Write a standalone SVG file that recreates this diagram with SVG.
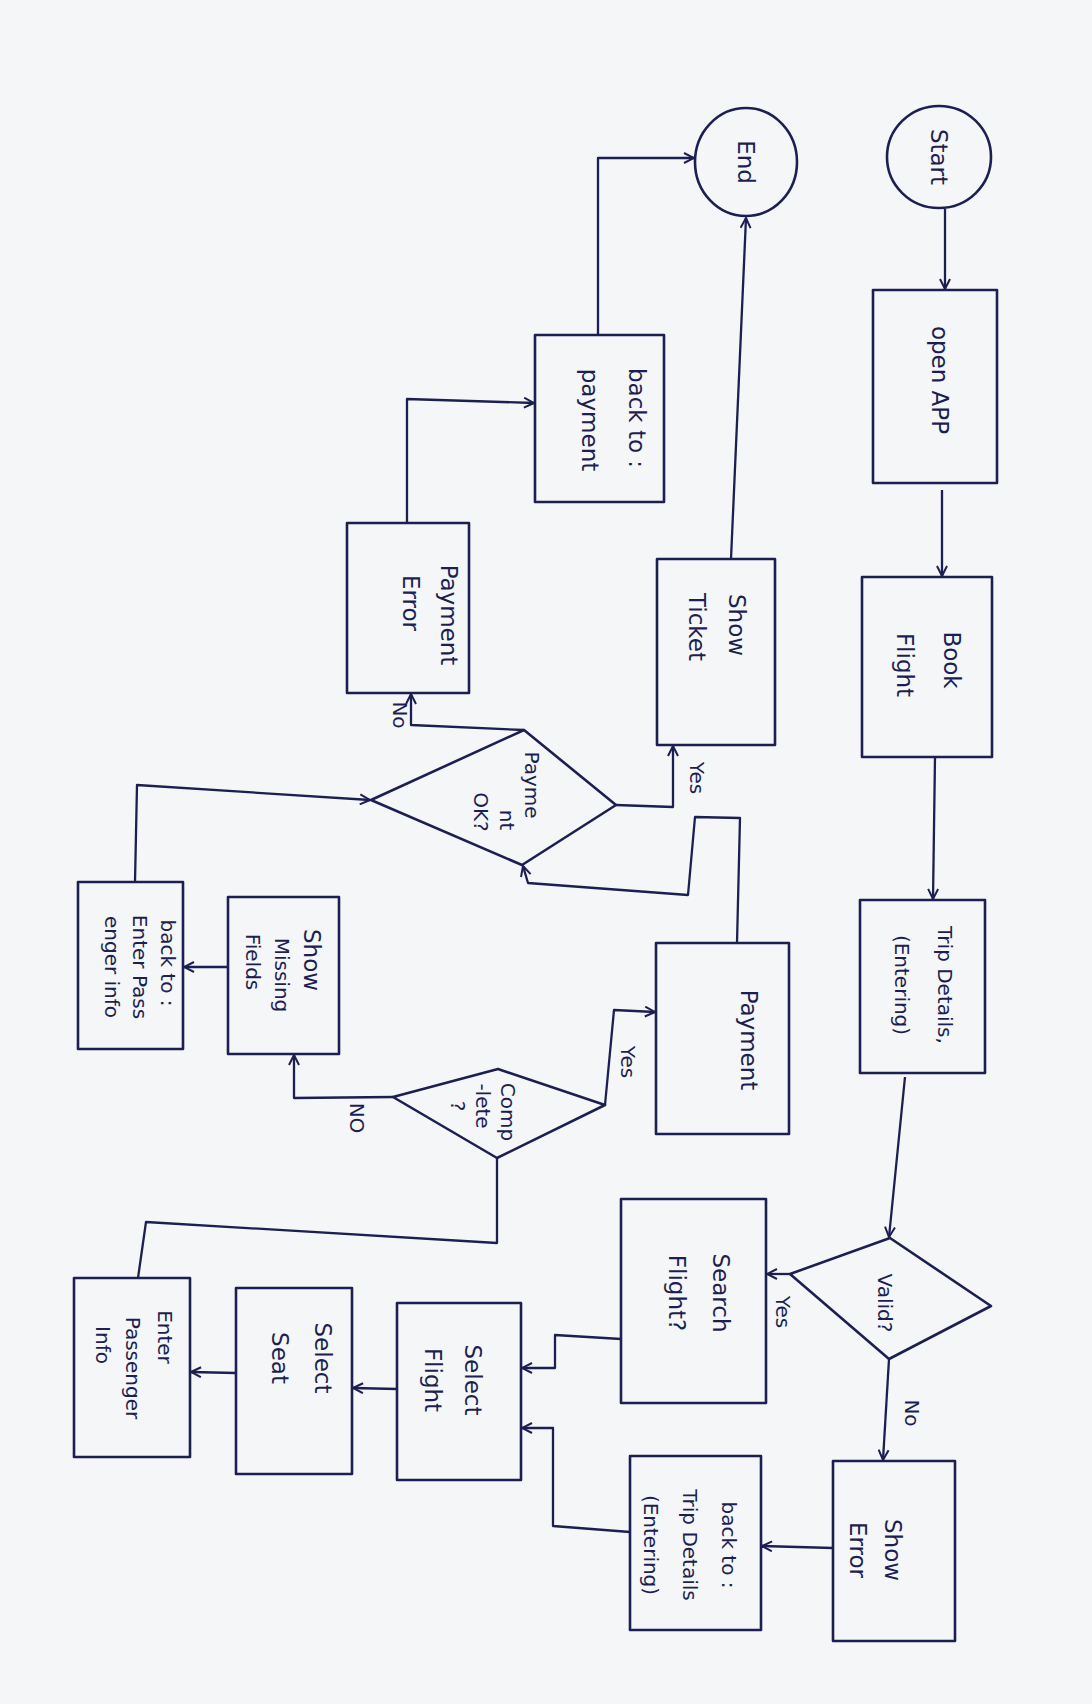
<svg xmlns="http://www.w3.org/2000/svg" width="1092" height="1704" viewBox="0 0 1092 1704">
<style>
.s{fill:none;stroke:#1c1f52;stroke-width:2.6;stroke-linejoin:round;stroke-linecap:round}
.c{fill:none;stroke:#1c1f52;stroke-width:2.3;stroke-linejoin:round}
.t{font-family:"DejaVu Sans","Liberation Sans",sans-serif;font-size:23px;fill:#1c1f52;text-anchor:middle;dominant-baseline:central}
.m{font-size:20px}
.l{font-family:"DejaVu Sans","Liberation Sans",sans-serif;font-size:20px;fill:#1c1f52;text-anchor:middle;dominant-baseline:central}
</style>
<defs>
<marker id="a" viewBox="0 0 12 12" refX="11" refY="6" markerWidth="12" markerHeight="12" markerUnits="userSpaceOnUse" orient="auto">
<path d="M1,1 L11,6 L1,11" fill="none" stroke="#1c1f52" stroke-width="2"/>
</marker>
</defs>
<rect x="0" y="0" width="1092" height="1704" fill="#f5f6f7"/>

<g id="connectors">
<path class="c" d="M945,209 L945,289" marker-end="url(#a)"/>
<path class="c" d="M942,490 L942,576" marker-end="url(#a)"/>
<path class="c" d="M935,757 L933,899" marker-end="url(#a)"/>
<path class="c" d="M905,1077 L889,1237" marker-end="url(#a)"/>
<path class="c" d="M790,1274 L767,1274" marker-end="url(#a)"/>
<path class="c" d="M889,1359 L883,1460" marker-end="url(#a)"/>
<path class="c" d="M833,1548 L762,1546" marker-end="url(#a)"/>
<path class="c" d="M630,1532 L553,1526 L553,1428 L522,1428" marker-end="url(#a)"/>
<path class="c" d="M621,1339 L555,1335 L555,1368 L522,1368" marker-end="url(#a)"/>
<path class="c" d="M397,1389 L353,1388" marker-end="url(#a)"/>
<path class="c" d="M236,1373 L191,1372" marker-end="url(#a)"/>
<path class="c" d="M138,1278 L146,1222 L497,1243 L497,1158"/>
<path class="c" d="M605,1105 L614,1010 L655,1012" marker-end="url(#a)"/>
<path class="c" d="M393,1097 L294,1098 L294,1055" marker-end="url(#a)"/>
<path class="c" d="M228,967 L184,967" marker-end="url(#a)"/>
<path class="c" d="M135,882 L137,785 L370,800" marker-end="url(#a)"/>
<path class="c" d="M737,943 L740,818 L695,817 L688,895 L528,883 L523,866" marker-end="url(#a)"/>
<path class="c" d="M616,805 L673,807 L673,746" marker-end="url(#a)"/>
<path class="c" d="M524,730 L411,725 L411,694" marker-end="url(#a)"/>
<path class="c" d="M407,523 L407,399 L534,403" marker-end="url(#a)"/>
<path class="c" d="M598,335 L598,158 L694,158" marker-end="url(#a)"/>
<path class="c" d="M731,559 L746,218" marker-end="url(#a)"/>
<text class="l" transform="translate(697,778) rotate(90)">Yes</text>
<text class="l" transform="translate(400,715) rotate(90)">No</text>
<text class="l" transform="translate(783,1312) rotate(90)">Yes</text>
<text class="l" transform="translate(912,1413) rotate(90)">No</text>
<text class="l" transform="translate(357,1118) rotate(90)">NO</text>
<text class="l" transform="translate(628,1062) rotate(90)">Yes</text>
</g>

<g id="start">
<ellipse class="s" cx="939" cy="157" rx="52" ry="51"/>
<text class="t" transform="translate(939,157) rotate(90)">Start</text>
</g>
<g id="end">
<ellipse class="s" cx="746" cy="162" rx="51" ry="54"/>
<text class="t" transform="translate(746,162) rotate(90)">End</text>
</g>
<g id="open-app">
<rect class="s" x="873" y="290" width="124" height="193"/>
<text class="t" transform="translate(940,380) rotate(90)">open APP</text>
</g>
<g id="book-flight">
<rect class="s" x="862" y="577" width="130" height="180"/>
<text class="t" transform="translate(952,660) rotate(90)">Book</text>
<text class="t" transform="translate(905,665) rotate(90)">Flight</text>
</g>
<g id="trip-details">
<rect class="s" x="860" y="900" width="125" height="173"/>
<text class="t m" transform="translate(945,985) rotate(90)">Trip Details,</text>
<text class="t m" transform="translate(902,985) rotate(90)">(Entering)</text>
</g>
<g id="valid">
<polygon class="s" points="890,1238 991,1306 889,1359 790,1274"/>
<text class="t m" transform="translate(885,1303) rotate(90)">Valid?</text>
</g>
<g id="search-flight">
<rect class="s" x="621" y="1199" width="145" height="204"/>
<text class="t" transform="translate(721,1293) rotate(90)">Search</text>
<text class="t" transform="translate(677,1293) rotate(90)">Flight?</text>
</g>
<g id="show-error">
<rect class="s" x="833" y="1461" width="122" height="180"/>
<text class="t" transform="translate(893,1550) rotate(90)">Show</text>
<text class="t" transform="translate(858,1550) rotate(90)">Error</text>
</g>
<g id="back-trip">
<rect class="s" x="630" y="1456" width="131" height="174"/>
<text class="t m" transform="translate(729,1545) rotate(90)">back to :</text>
<text class="t m" transform="translate(690,1545) rotate(90)">Trip Details</text>
<text class="t m" transform="translate(651,1545) rotate(90)">(Entering)</text>
</g>
<g id="select-flight">
<rect class="s" x="397" y="1303" width="124" height="177"/>
<text class="t" transform="translate(473,1380) rotate(90)">Select</text>
<text class="t" transform="translate(433,1380) rotate(90)">Flight</text>
</g>
<g id="select-seat">
<rect class="s" x="236" y="1288" width="116" height="186"/>
<text class="t" transform="translate(323,1358) rotate(90)">Select</text>
<text class="t" transform="translate(280,1358) rotate(90)">Seat</text>
</g>
<g id="enter-passenger">
<rect class="s" x="74" y="1278" width="116" height="179"/>
<text class="t m" transform="translate(165,1337) rotate(90)">Enter</text>
<text class="t m" transform="translate(133,1368) rotate(90)">Passenger</text>
<text class="t m" transform="translate(103,1345) rotate(90)">Info</text>
</g>
<g id="complete">
<polygon class="s" points="498,1069 605,1105 497,1158 393,1097"/>
<text class="t m" transform="translate(508,1112) rotate(90)">Comp</text>
<text class="t m" transform="translate(483,1106) rotate(90)">-lete</text>
<text class="t m" transform="translate(458,1106) rotate(90)">?</text>
</g>
<g id="show-missing">
<rect class="s" x="228" y="897" width="111" height="157"/>
<text class="t" transform="translate(312,960) rotate(90)">Show</text>
<text class="t m" transform="translate(282,975) rotate(90)">Missing</text>
<text class="t m" transform="translate(253,962) rotate(90)">Fields</text>
</g>
<g id="back-enter">
<rect class="s" x="78" y="882" width="105" height="167"/>
<text class="t m" transform="translate(168,963) rotate(90)">back to :</text>
<text class="t m" transform="translate(140,967) rotate(90)">Enter Pass</text>
<text class="t m" transform="translate(112,967) rotate(90)">enger info</text>
</g>
<g id="payment">
<rect class="s" x="656" y="943" width="133" height="191"/>
<text class="t" transform="translate(749,1040) rotate(90)">Payment</text>
</g>
<g id="payment-ok">
<polygon class="s" points="524,730 616,805 522,865 371,800"/>
<text class="t m" transform="translate(532,785) rotate(90)">Payme</text>
<text class="t m" transform="translate(507,820) rotate(90)">nt</text>
<text class="t m" transform="translate(481,812) rotate(90)">OK?</text>
</g>
<g id="show-ticket">
<rect class="s" x="657" y="559" width="118" height="186"/>
<text class="t" transform="translate(737,625) rotate(90)">Show</text>
<text class="t" transform="translate(697,627) rotate(90)">Ticket</text>
</g>
<g id="payment-error">
<rect class="s" x="347" y="523" width="122" height="170"/>
<text class="t" transform="translate(449,615) rotate(90)">Payment</text>
<text class="t" transform="translate(411,603) rotate(90)">Error</text>
</g>
<g id="back-payment">
<rect class="s" x="535" y="335" width="129" height="167"/>
<text class="t" transform="translate(637,418) rotate(90)">back to :</text>
<text class="t" transform="translate(590,420) rotate(90)">payment</text>
</g>
</svg>
